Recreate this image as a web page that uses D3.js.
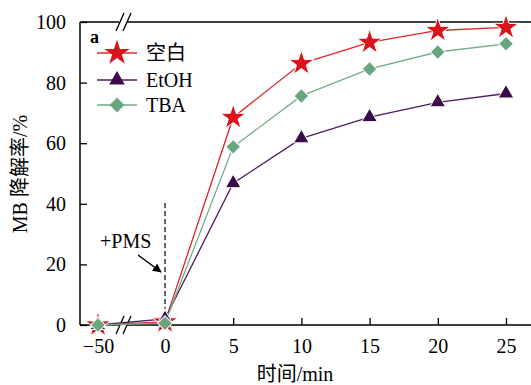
<!DOCTYPE html>
<html>
<head>
<meta charset="utf-8">
<script src="https://cdn.jsdelivr.net/npm/d3@7"></script>
<style>
  body { margin: 0; background: #fff; }
  svg { display: block; }
  text { font-family: "Liberation Serif", "Noto Sans CJK SC", serif; fill: #000; }
</style>
</head>
<body>
<svg id="chart" width="531" height="385"></svg>
<script>
// data
var times = [-50, 0, 5, 10, 15, 20, 25];
var blank = [0, 1, 68.5, 86.3, 93.3, 97.2, 98.2];   // 空白
var etoh = [0, 2, 46.8, 61.6, 68.6, 73.5, 76.4];
var tba = [0, 0.6, 58.8, 75.6, 84.5, 90.1, 92.8];
var xTicks = [-50, 0, 5, 10, 15, 20, 25];
var yTicks = [0, 20, 40, 60, 80, 100];
var seriesNames = ["空白", "EtOH", "TBA"];

var svg = d3.select("#chart");
// note: "top" is taken by window.top, so use other names
var pL = 80, pR = 531, pT = 22, pB = 325;

// piecewise scale so -50 sits just left of the axis break
var x = d3.scaleLinear().domain([-50, 0, 25]).range([98, 165, 506]);
var y = d3.scaleLinear().domain([0, 100]).range([pB, pT]);

var series = [
  { name: seriesNames[0], vals: blank, color: "#d9141c", line: "#e0242c", shape: d3.symbolStar, size: 200, rot: 0 },
  { name: seriesNames[1], vals: etoh, color: "#3b0a48", line: "#4b1d5c", shape: d3.symbolTriangle, size: 105, rot: 0 },
  { name: seriesNames[2], vals: tba, color: "#68a77e", line: "#6fae85", shape: d3.symbolSquare, size: 110, rot: 45 }
];

// frame: left axis, bottom axis, top border
svg.append("line").attr("x1", pL).attr("x2", pL).attr("y1", pT).attr("y2", pB)
  .attr("stroke", "#000").attr("stroke-width", 1.5);
svg.append("line").attr("x1", pL).attr("x2", pR).attr("y1", pB).attr("y2", pB)
  .attr("stroke", "#000").attr("stroke-width", 1.5);
svg.append("line").attr("x1", pL).attr("x2", pR).attr("y1", pT).attr("y2", pT)
  .attr("stroke", "#000").attr("stroke-width", 1.5);

// ticks (pointing inward) + labels
var xAxis = d3.axisBottom(x).tickValues(xTicks).tickSizeInner(-7).tickSizeOuter(0)
  .tickPadding(14).tickFormat(d => d < 0 ? "\u2212" + Math.abs(d) : d);
var gx = svg.append("g").attr("transform", "translate(0," + pB + ")").call(xAxis);
gx.select(".domain").remove();
gx.selectAll(".tick line").attr("stroke", "#000").attr("stroke-width", 1.3);
gx.selectAll(".tick text").attr("font-size", 20).attr("font-family", "Liberation Serif");

var yAxis = d3.axisLeft(y).tickValues(yTicks).tickSizeInner(-7).tickSizeOuter(0).tickPadding(14);
var gy = svg.append("g").attr("transform", "translate(" + pL + ",0)").call(yAxis);
gy.select(".domain").remove();
gy.selectAll(".tick line").attr("stroke", "#000").attr("stroke-width", 1.3);
gy.selectAll(".tick text").attr("font-size", 20).attr("font-family", "Liberation Serif");

// axis break marks
function brk(cx, cy) {
  svg.append("rect").attr("x", cx - 5).attr("y", cy - 3).attr("width", 8).attr("height", 6).attr("fill", "#fff");
  [-4, 3].forEach(function (o) {
    svg.append("line").attr("x1", cx + o - 4).attr("y1", cy + 9).attr("x2", cx + o + 4).attr("y2", cy - 9)
      .attr("stroke", "#000").attr("stroke-width", 1.3);
  });
}
brk(124, pT);
brk(124, pB);

// dashed line at PMS addition
svg.append("line").attr("x1", x(0)).attr("x2", x(0)).attr("y1", 203).attr("y2", pB)
  .attr("stroke", "#000").attr("stroke-width", 1.2).attr("stroke-dasharray", "5,3");

svg.append("defs").append("marker").attr("id", "arr").attr("viewBox", "0 0 10 10")
  .attr("refX", 9).attr("refY", 5).attr("markerWidth", 9).attr("markerHeight", 9)
  .attr("markerUnits", "userSpaceOnUse").attr("orient", "auto")
  .append("path").attr("d", "M0,0L10,5L0,10z").attr("fill", "#000");
svg.append("line").attr("x1", 138).attr("y1", 255).attr("x2", 161).attr("y2", 272)
  .attr("stroke", "#000").attr("stroke-width", 1.5).attr("marker-end", "url(#arr)");
svg.append("text").attr("x", 100).attr("y", 248).attr("font-size", 20).text("+PMS");

// series
var line = d3.line().x((d, i) => x(times[i])).y(d => y(d));
series.forEach(function (s) {
  svg.append("path").datum(s.vals).attr("d", line).attr("fill", "none")
    .attr("stroke", s.line).attr("stroke-width", 1.3);
});
series.forEach(function (s) {
  svg.selectAll(null).data(s.vals).join("path")
    .attr("transform", (d, i) => "translate(" + x(times[i]) + "," + y(d) + ") rotate(" + s.rot + ")")
    .attr("d", d3.symbol().type(s.shape).size(s.size))
    .attr("fill", s.color).attr("stroke", "#fff").attr("stroke-width", 1);
});

// legend
svg.append("text").attr("x", 90).attr("y", 43).attr("font-size", 18).attr("font-weight", "bold").text("a");
var legY = [53, 80, 105];
series.forEach(function (s, i) {
  svg.append("line").attr("x1", 97).attr("x2", 137).attr("y1", legY[i]).attr("y2", legY[i])
    .attr("stroke", s.line).attr("stroke-width", 1.3);
  svg.append("path").attr("transform", "translate(117," + legY[i] + ") rotate(" + s.rot + ")")
    .attr("d", d3.symbol().type(s.shape).size(s.size)).attr("fill", s.color);
  svg.append("text").attr("x", 146).attr("y", legY[i] + 7).attr("font-size", 20).text(s.name);
});

// axis titles
svg.append("text").attr("transform", "translate(27,174) rotate(-90)").attr("text-anchor", "middle")
  .attr("font-size", 20).text("MB 降解率/%");
svg.append("text").attr("x", 295).attr("y", 381).attr("text-anchor", "middle")
  .attr("font-size", 20).text("时间/min");
</script>
</body>
</html>
